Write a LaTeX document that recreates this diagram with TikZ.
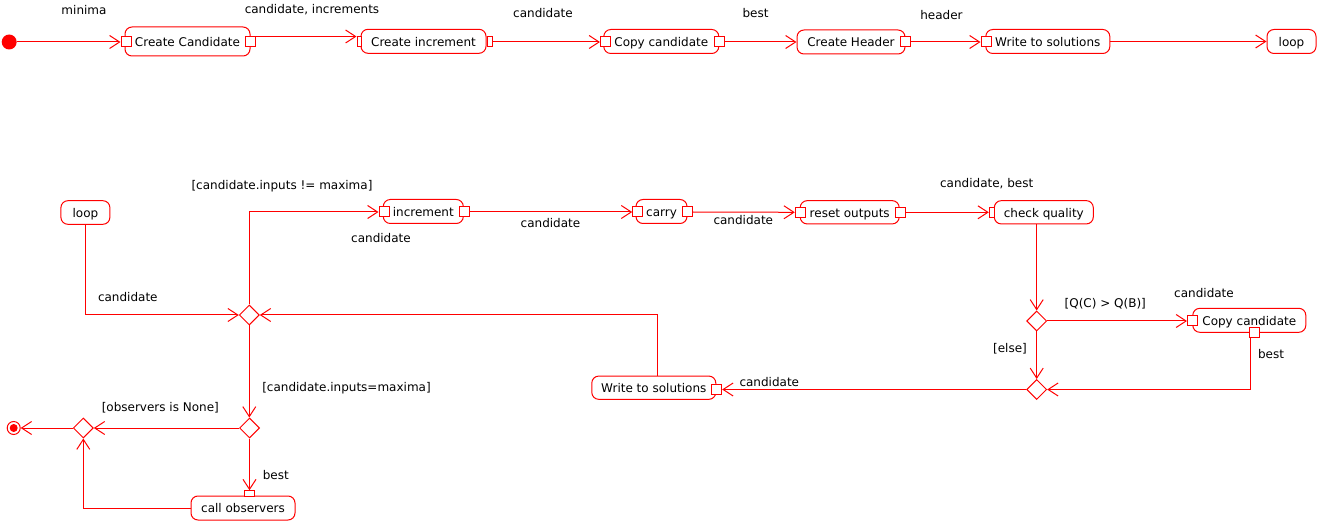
\documentclass[tikz,border=0pt]{standalone}
\usepackage{fontspec}
\setmainfont{DejaVu Sans}
\usetikzlibrary{arrows.meta,shapes.geometric}
\newcommand\fsz{\fontsize{12pt}{14pt}\selectfont}
\begin{document}
\begin{tikzpicture}[x=1pt,y=-1pt,
 act/.style={rectangle, rounded corners=7pt, draw=red, line width=1pt, fill=white, inner sep=1pt, text=black, font=\fsz, text height=12pt, text depth=2.5pt},
 pinbox/.style={rectangle, draw=red, line width=1pt, fill=white, inner sep=0pt, minimum width=10pt, minimum height=10pt},
 dec/.style={diamond, draw=red, line width=1pt, fill=white, inner sep=0pt, minimum width=20pt, minimum height=20pt},
 lbl/.style={inner sep=0pt, text=black, font=\fsz},
 flow/.style={draw=red, line width=1pt, -{Straight Barb[length=10pt,width=13pt]}},
 plain/.style={draw=red, line width=1pt}]
\useasboundingbox (0,0) rectangle (1320,521);
\fill[white] (0,0) rectangle (1320,521);
% ---------- top row ----------
\node[circle, fill=red, inner sep=0pt, minimum size=15pt] (init) at (9.2,42) {};
\node[act, minimum width=125pt, minimum height=29pt] (cc) at (187.5,41.5) {Create Candidate};
\node[pinbox] (ccin) at (126,42) {};
\node[pinbox] (ccout) at (250.7,42) {};
\node[act, minimum width=125pt, minimum height=24pt] (ci) at (423.5,41.3) {Create increment};
\node[pinbox, minimum width=4pt] (ciin) at (359,42) {};
\node[pinbox, minimum width=5pt] (ciout) at (489.5,42) {};
\node[act, minimum width=115pt, minimum height=24pt] (cpy) at (661.3,41.5) {Copy candidate};
\node[pinbox] (cpyin) at (605.5,42) {};
\node[pinbox] (cpyout) at (719,42) {};
\node[act, minimum width=108pt, minimum height=24pt] (ch) at (851,42) {Create Header};
\node[pinbox] (chout) at (905,42) {};
\node[act, minimum width=124pt, minimum height=24pt] (wts) at (1047.8,41.5) {Write to solutions};
\node[pinbox] (wtsin) at (986,42) {};
\node[act, minimum width=49pt, minimum height=24pt] (loopa) at (1291.5,41.5) {loop};
\draw[flow] (init) -- (ccin.west);
\draw[flow] (ccout.north east) -- (ciin.north west);
\draw[flow] (ciout.east) -- (cpyin.west);
\draw[flow] (cpyout.east) -- (cpyout.east -| ch.west);
\draw[flow] (chout.east) -- (wtsin.west);
\draw[flow] (wts.east) -- (wts.east -| loopa.west);
\node[lbl] (lminima) at (84,10) {minima};
\node[lbl] (lcandinc) at (312,10) {candidate, increments};
\node[lbl] (lcand1) at (543,13) {candidate};
\node[lbl] (lbest1) at (755.5,13.3) {best};
\node[lbl] (lheader) at (941.5,15.3) {header};
% ---------- middle / bottom ----------
\node[act, minimum width=49pt, minimum height=23.6pt] (loopb) at (85.4,212.5) {loop};
\node[act, minimum width=80pt, minimum height=24pt] (inc) at (423.3,211.5) {increment};
\node[pinbox] (incin) at (384,212) {};
\node[pinbox] (incout) at (464,212) {};
\node[act, minimum width=51pt, minimum height=24pt] (carry) at (661.5,211.5) {carry};
\node[pinbox] (carryin) at (637.7,212) {};
\node[pinbox] (carryout) at (687,212) {};
\node[act, minimum width=99pt, minimum height=23.3pt] (reset) at (849.7,212.3) {reset outputs};
\node[pinbox] (resetin) at (800.3,212.3) {};
\node[pinbox] (resetout) at (900,212.3) {};
\node[act, minimum width=99pt, minimum height=23.3pt] (chk) at (1043.8,212.3) {check quality};
\node[pinbox, minimum width=5pt] (chkin) at (991.8,212.3) {};
\node[dec] (d1) at (249.3,315) {};
\node[dec] (d2) at (1036.7,321) {};
\node[dec] (d3) at (1036.7,389.5) {};
\node[act, minimum width=113pt, minimum height=24pt] (cpyb) at (1249.3,320.3) {Copy candidate};
\node[pinbox] (cpybin) at (1192.5,320.5) {};
\node[pinbox] (cpybout) at (1254.3,332.5) {};
\node[act, minimum width=124pt, minimum height=23.3pt] (wtsb) at (653.8,387.7) {Write to solutions};
\node[pinbox] (wtsbin) at (716.7,389.5) {};
\node[dec] (d4) at (249.5,428) {};
\node[dec] (d5) at (83.3,428) {};
\node[circle, draw=red, line width=1pt, fill=white, inner sep=0pt, minimum size=13pt] (final) at (13.7,428) {};
\node[circle, fill=red, inner sep=0pt, minimum size=8pt] (finalin) at (final.center) {};
\node[act, minimum width=104pt, minimum height=24pt] (cob) at (243,508) {call observers};
\node[pinbox, minimum height=5.5pt] (cobin) at (249.5,493.5) {};
% connectors
\draw[flow] (loopb.south) |- (d1.west);
\draw[flow] (d1.north) |- (incin.west);
\draw[flow] (incout.east) -- (carryin.west);
\draw[flow] (carryout.east) -- (resetin.west);
\draw[flow] (resetout.east) -- (chkin.west);
\draw[flow] (chk.south -| d2.north) -- (d2.north);
\draw[flow] (d2.east) -- (d2.east -| cpybin.west);
\draw[flow] (d2.south) -- (d3.north);
\draw[flow] ([xshift=-4pt]cpybout.south) |- (d3.east);
\draw[flow] (d3.west) -- (d3.west -| wtsbin.east);
\draw[flow] ([xshift=3.5pt]wtsb.north) |- (d1.east);
\draw[flow] (d1.south) -- (d1.south |- d4.north);
\draw[flow] (d4.west) -- (d5.east);
\draw[flow] (d5.west) -- (final.east);
\draw[flow] (d4.south) -- (d4.south |- cobin.north);
\draw[flow] (cob.west) -| (d5.south);
% labels
\node[lbl] (lne) at (282,185.7) {[candidate.inputs != maxima]};
\node[lbl] (lc2) at (381,237.7) {candidate};
\node[lbl] (lc3) at (550.5,222.7) {candidate};
\node[lbl] (lc4) at (743.3,220) {candidate};
\node[lbl] (lcb) at (986.7,184) {candidate, best};
\node[lbl] (lc5) at (127.8,296.7) {candidate};
\node[lbl] (lq) at (1105.3,303.3) {[Q(C) > Q(B)]};
\node[lbl] (lc6) at (1204,292.7) {candidate};
\node[lbl] (lb2) at (1271,354) {best};
\node[lbl] (lelse) at (1010,348.3) {[else]};
\node[lbl] (lc7) at (769.3,381.7) {candidate};
\node[lbl] (leq) at (346.5,388) {[candidate.inputs=maxima]};
\node[lbl] (lobs) at (160.3,407.3) {[observers is None]};
\node[lbl] (lb3) at (275.8,475) {best};
\end{tikzpicture}
\end{document}
